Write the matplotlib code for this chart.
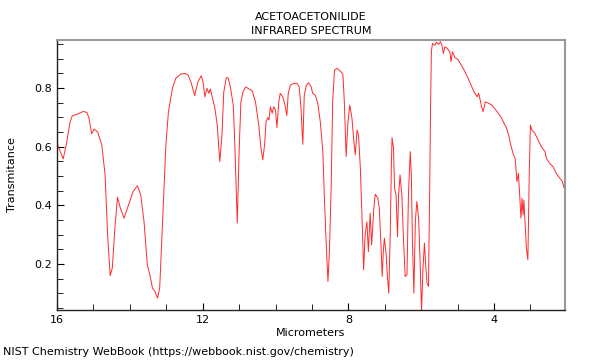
import numpy as np
import matplotlib
matplotlib.use('Agg')
import matplotlib.pyplot as plt
from matplotlib.ticker import MultipleLocator

# wavelength (micrometers) and transmittance
wavelength = [16.0, 15.97, 15.83, 15.73, 15.64, 15.58, 15.46, 15.28, 15.18, 15.12,
              15.05, 14.98, 14.88, 14.77, 14.68, 14.61, 14.54, 14.48, 14.41, 14.34,
              14.26, 14.16, 14.02, 13.91, 13.79, 13.70, 13.61, 13.52, 13.45, 13.38,
              13.31, 13.24, 13.18, 13.11, 13.01, 12.94, 12.83, 12.74, 12.60, 12.48,
              12.40, 12.31, 12.22, 12.13, 12.04, 11.99, 11.94, 11.88, 11.83, 11.79,
              11.73, 11.67, 11.60, 11.53, 11.47, 11.42, 11.35, 11.30, 11.24, 11.16,
              11.12, 11.05, 11.00, 10.95, 10.89, 10.82, 10.73, 10.64, 10.55, 10.46,
              10.40, 10.35, 10.30, 10.26, 10.21, 10.18, 10.14, 10.09, 10.05, 10.00,
              9.96, 9.91, 9.87, 9.80, 9.74, 9.69, 9.65, 9.59, 9.50, 9.41,
              9.35, 9.30, 9.25, 9.21, 9.15, 9.09, 9.02, 8.98, 8.91, 8.84,
              8.77, 8.70, 8.66, 8.61, 8.56, 8.52, 8.47, 8.43, 8.38, 8.31,
              8.22, 8.15, 8.11, 8.06, 8.01, 7.96, 7.90, 7.86, 7.81, 7.76,
              7.72, 7.67, 7.62, 7.58, 7.54, 7.49, 7.45, 7.40, 7.36, 7.30,
              7.26, 7.19, 7.15, 7.10, 7.07, 7.04, 7.01, 6.96, 6.93, 6.89,
              6.85, 6.82, 6.80, 6.76, 6.73, 6.69, 6.65, 6.62, 6.58, 6.53,
              6.49, 6.44, 6.39, 6.35, 6.30, 6.27, 6.24, 6.20, 6.16, 6.12,
              6.07, 6.03, 5.99, 5.95, 5.91, 5.87, 5.84, 5.80, 5.77, 5.74,
              5.72, 5.69, 5.63, 5.58, 5.52, 5.47, 5.43, 5.39, 5.35, 5.28,
              5.21, 5.18, 5.14, 5.07, 5.00, 4.91, 4.82, 4.73, 4.64, 4.55,
              4.46, 4.42, 4.34, 4.30, 4.24, 4.15, 4.06, 3.97, 3.88, 3.79,
              3.71, 3.67, 3.60, 3.54, 3.47, 3.42, 3.37, 3.33, 3.30, 3.26,
              3.23, 3.20, 3.18, 3.14, 3.11, 3.07, 3.03, 3.00, 2.96, 2.88,
              2.79, 2.70, 2.60, 2.56, 2.47, 2.38, 2.29, 2.19, 2.12, 2.08,
              2.05]
transmittance = [0.612, 0.602, 0.558, 0.617, 0.685, 0.705, 0.710, 0.720, 0.717, 0.697,
                 0.644, 0.660, 0.649, 0.606, 0.504, 0.299, 0.160, 0.187, 0.323, 0.428,
                 0.390, 0.356, 0.407, 0.447, 0.467, 0.435, 0.344, 0.197, 0.163, 0.118,
                 0.106, 0.083, 0.118, 0.322, 0.606, 0.719, 0.799, 0.833, 0.848, 0.850,
                 0.844, 0.816, 0.774, 0.821, 0.842, 0.821, 0.770, 0.799, 0.782, 0.797,
                 0.765, 0.736, 0.674, 0.549, 0.640, 0.787, 0.835, 0.835, 0.804, 0.742,
                 0.617, 0.339, 0.583, 0.753, 0.787, 0.804, 0.797, 0.790, 0.753, 0.674,
                 0.595, 0.555, 0.606, 0.685, 0.699, 0.691, 0.736, 0.714, 0.736, 0.725,
                 0.665, 0.753, 0.782, 0.770, 0.742, 0.706, 0.782, 0.810, 0.816, 0.816,
                 0.804, 0.731, 0.608, 0.776, 0.810, 0.818, 0.804, 0.782, 0.776, 0.748,
                 0.685, 0.583, 0.435, 0.276, 0.140, 0.242, 0.470, 0.753, 0.861, 0.867,
                 0.858, 0.847, 0.753, 0.566, 0.685, 0.742, 0.697, 0.634, 0.572, 0.657,
                 0.640, 0.526, 0.344, 0.180, 0.299, 0.344, 0.242, 0.373, 0.265, 0.390,
                 0.438, 0.424, 0.390, 0.254, 0.157, 0.242, 0.288, 0.231, 0.163, 0.100,
                 0.299, 0.526, 0.631, 0.595, 0.458, 0.435, 0.293, 0.435, 0.504, 0.435,
                 0.299, 0.157, 0.163, 0.435, 0.583, 0.504, 0.276, 0.100, 0.344, 0.413,
                 0.356, 0.208, 0.040, 0.186, 0.271, 0.186, 0.135, 0.123, 0.413, 0.753,
                 0.924, 0.952, 0.946, 0.956, 0.949, 0.958, 0.946, 0.918, 0.941, 0.935,
                 0.922, 0.890, 0.924, 0.903, 0.899, 0.881, 0.861, 0.838, 0.813, 0.787,
                 0.770, 0.782, 0.736, 0.719, 0.753, 0.748, 0.742, 0.728, 0.714, 0.697,
                 0.676, 0.668, 0.640, 0.606, 0.574, 0.560, 0.481, 0.509, 0.447, 0.356,
                 0.424, 0.367, 0.418, 0.322, 0.254, 0.214, 0.526, 0.674, 0.657, 0.646,
                 0.623, 0.600, 0.583, 0.560, 0.543, 0.532, 0.509, 0.492, 0.481, 0.460,
                 0.460]

fig = plt.figure(figsize=(6, 3.6), dpi=100)
ax = fig.add_axes([0.095, 0.139, 0.8467, 0.75])

ax.plot(wavelength, transmittance, color='#ff2a2a', linewidth=0.7)

ax.set_xlim(16, 2.05)
ax.set_ylim(0.043, 0.964)
ax.xaxis.set_major_locator(MultipleLocator(4))
ax.xaxis.set_minor_locator(MultipleLocator(1))
ax.yaxis.set_major_locator(MultipleLocator(0.2))
ax.yaxis.set_minor_locator(MultipleLocator(0.05))
ax.set_xticks([16, 12, 8, 4])
ax.set_xticklabels(['16', '12', '8', '4'])
ax.tick_params(which='both', direction='in', labelsize=8, top=False, right=False)
ax.tick_params(which='major', length=5, width=0.8)
ax.tick_params(which='minor', length=4, width=0.6)

for side in ['top', 'right']:
    ax.spines[side].set_color('#999999')
    ax.spines[side].set_linewidth(1.5)
for side in ['left', 'bottom']:
    ax.spines[side].set_color('#222222')
    ax.spines[side].set_linewidth(1.0)

ax.set_xlabel('Micrometers', fontsize=8, labelpad=2)
ax.set_ylabel('Transmitance', fontsize=8)
ax.yaxis.set_label_coords(-0.078, 0.5)
ax.set_title('ACETOACETONILIDE\nINFRARED SPECTRUM', fontsize=8, pad=4, linespacing=1.6)

fig.text(0.005, 0.022, 'NIST Chemistry WebBook (https://webbook.nist.gov/chemistry)',
         fontsize=8, ha='left', va='center')

fig.savefig('out.png', dpi=100)
